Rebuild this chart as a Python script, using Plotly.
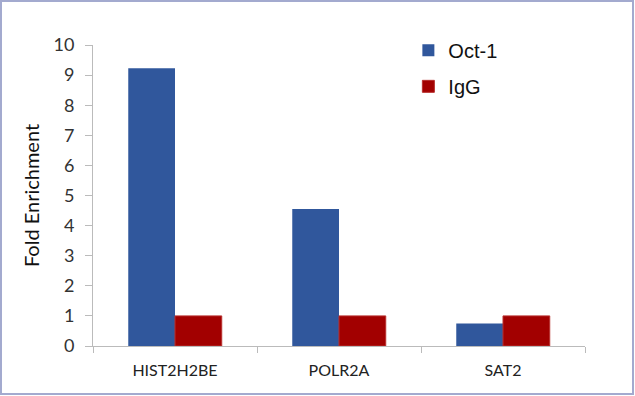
import plotly.graph_objects as go

categories = ["HIST2H2BE", "POLR2A", "SAT2"]
oct1 = [9.23, 4.55, 0.75]
igg = [1.0, 1.0, 1.0]
y_ticks = list(range(0, 11))

fig = go.Figure()
fig.add_trace(go.Bar(x=categories, y=oct1, name="Oct-1", marker_color="#30579C",
                     marker_line_width=0, legendgroup="a"))
fig.add_trace(go.Bar(x=categories, y=igg, name="IgG", marker_color="#A20000",
                     marker_line=dict(color="#B8302E", width=1), legendgroup="b"))

fig.update_layout(
    width=635, height=396,
    margin=dict(l=93, r=50, t=45, b=50),
    paper_bgcolor="white", plot_bgcolor="white",
    barmode="group", bargap=0.43, bargroupgap=0,
    font=dict(family="Lato, Arial, sans-serif", color="#333333"),
    showlegend=True,
    legend=dict(x=0.641, y=1.047, xanchor="left", yanchor="top",
                font=dict(family="Liberation Sans, Arial", size=20, color="#111111"),
                tracegroupgap=7, bgcolor="rgba(0,0,0,0)", itemwidth=30),
    xaxis=dict(type="category", tickson="boundaries", ticks="outside", ticklen=6,
               tickcolor="#BBBBBB", showline=True, linecolor="#BBBBBB", linewidth=1,
               showgrid=False, tickfont=dict(size=16, color="#222222"),
               ticklabelstandoff=10, range=[-0.5, 2.5]),
    yaxis=dict(range=[0, 10], tickvals=y_ticks, ticks="outside", ticklen=7,
               tickcolor="#BBBBBB", showline=True, linecolor="#BBBBBB", linewidth=1,
               showgrid=False, zeroline=False, tickfont=dict(size=18, color="#333333"),
               ticklabelstandoff=7,
               title=dict(text="Fold Enrichment", font=dict(size=20, color="#111111"),
                          standoff=8)),
    shapes=[dict(type="rect", xref="paper", yref="paper",
                 x0=-92/492, x1=1 + 48/492, y0=-48/301, y1=1 + 44/301,
                 line=dict(color="#A3AACF", width=2), fillcolor="rgba(0,0,0,0)")],
)

fig.write_html("out.html", config={"displayModeBar": False},
               post_script="document.body.style.margin='0';")
